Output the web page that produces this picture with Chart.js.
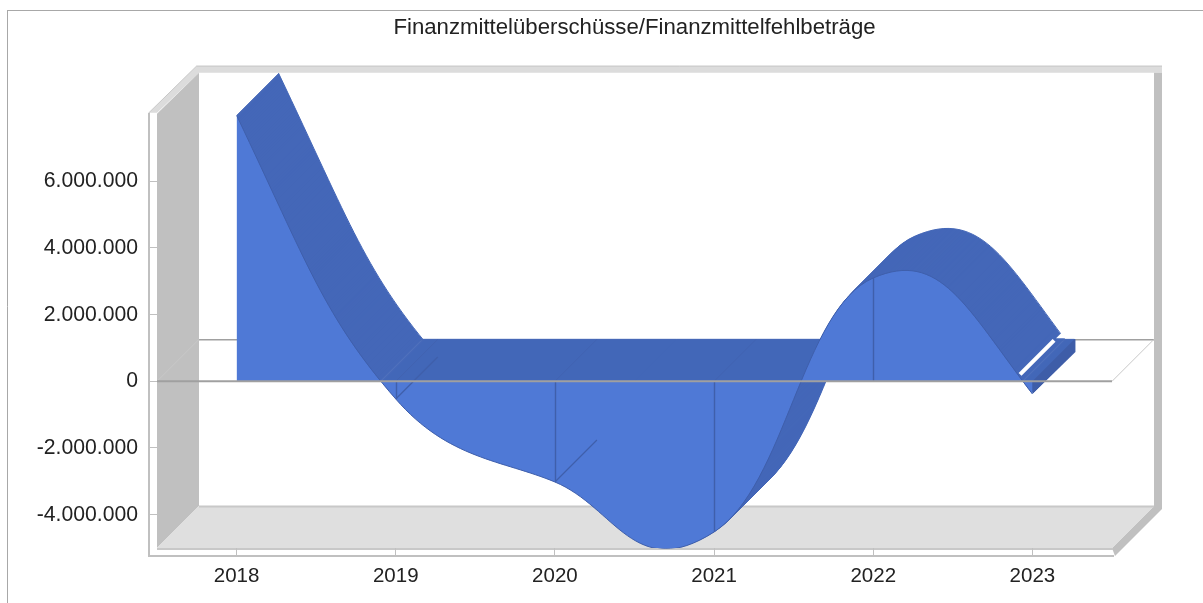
<!DOCTYPE html>
<html><head><meta charset="utf-8">
<style>html,body{margin:0;padding:0;background:#fff;overflow:hidden}canvas{display:block}</style>
<script src="https://cdn.jsdelivr.net/npm/chart.js@4"></script></head>
<body><canvas id="c" width="1203" height="603"></canvas>
<script>
const chartTitle = 'Finanzmittelüberschüsse/Finanzmittelfehlbeträge';
const years = ['2018','2019','2020','2021','2022','2023'];
const values = [7980000,-530000,-3020000,-4520000,3100000,-380000];
const yTickValues = [-4000000,-2000000,0,2000000,4000000,6000000];
const FONT = '"Liberation Sans", Arial, sans-serif';
const DEPTH = 42, STRIP = 8;
const CURVE = {left:[0,.45,.33,.5,.45,.42], right:[.45,.33,.38,.45,.42,0]};
const C = {front:'#4f79d6', side:'#4467b8', end:'#3e5da8', mark:'#3f5fab', wall:'#c0c0c0', band:'#dcdcdc', floor:'#dfdfdf', edge:'#c8c8c8', zero:'#a0a0a0', frame:'#a8a8a8'};

function poly(ctx, pts, fill){
  ctx.beginPath(); pts.forEach((p,i)=> i?ctx.lineTo(p[0],p[1]):ctx.moveTo(p[0],p[1])); ctx.closePath();
  ctx.fillStyle=fill;ctx.fill();
}
function seg(ctx,a,b,c,w,alpha){
  ctx.save();ctx.globalAlpha=alpha==null?1:alpha;ctx.strokeStyle=c;ctx.lineWidth=w||1;ctx.beginPath();ctx.moveTo(a[0],a[1]);ctx.lineTo(b[0],b[1]);ctx.stroke();ctx.restore();
}
function areaPath(ctx, pts, y0){
  ctx.beginPath(); ctx.moveTo(pts[0].x,y0); ctx.lineTo(pts[0].x,pts[0].y);
  for(let i=1;i<pts.length;i++){const a=pts[i-1],b=pts[i];ctx.bezierCurveTo(a.cp2x,a.cp2y,b.cp1x,b.cp1y,b.x,b.y);}
  ctx.lineTo(pts[pts.length-1].x,y0); ctx.closePath();
}
function lastCrossing(pts,y0){
  const a=pts[pts.length-2],b=pts[pts.length-1]; let res=b.x;
  for(let t=0;t<=1;t+=0.002){const u=1-t;
    const x=u*u*u*a.x+3*u*u*t*a.cp2x+3*u*t*t*b.cp1x+t*t*t*b.x;
    const y=u*u*u*a.y+3*u*u*t*a.cp2y+3*u*t*t*b.cp1y+t*t*t*b.y;
    if(y>=y0){res=x;break;}}
  return res;
}
const frame3d = {
  id:'frame3d',
  afterDatasetsUpdate(chart){
    const meta=chart.getDatasetMeta(0), pts=meta.data, n=pts.length;
    meta.dataset.updateControlPoints(chart.chartArea,'x');
    const sec=i=>(pts[i+1].y-pts[i].y)/(pts[i+1].x-pts[i].x);
    const m=pts.map((p,i)=> (i>0&&i<n-1)?(pts[i+1].y-pts[i-1].y)/(pts[i+1].x-pts[i-1].x):0);
    m[0]=1.5*sec(0)-0.5*m[1]; m[n-1]=1.5*sec(n-2)-0.5*m[n-2];
    pts.forEach((p,i)=>{
      const hl=i>0?(p.x-pts[i-1].x)*CURVE.left[i]:0, hr=i<n-1?(pts[i+1].x-p.x)*CURVE.right[i]:0;
      p.cp1x=p.x-hl;p.cp1y=p.y-m[i]*hl;p.cp2x=p.x+hr;p.cp2y=p.y+m[i]*hr;
    });
  },
  beforeDraw(chart){
    const {ctx,chartArea:a,scales:{y}}=chart; const D=DEPTH,S=STRIP;
    const L=a.left,R=a.right,T=a.top,B=a.bottom,y0=y.getPixelForValue(0);
    ctx.save();
    ctx.fillStyle='#fff';ctx.fillRect(0,0,chart.width,chart.height);
    seg(ctx,[7,10.5],[chart.width,10.5],C.frame,1);
    seg(ctx,[7.5,10],[7.5,chart.height],C.frame,1);
    // top border band of the box
    poly(ctx,[[L-S,T-2],[L+D-S+6,T-D-7],[R+D+8,T-D-7],[R+D+8,T-D],[L+D,T-D],[L,T-2]],C.band);
    seg(ctx,[L+D-2,T-D-6.5],[R+D+8,T-D-6.5],C.edge,1);
    seg(ctx,[L-S,T-2],[L+D-2,T-D-7],C.edge,1);
    // walls
    poly(ctx,[[L,T-1],[L+D,T-D],[L+D,B-D],[L,B]],C.wall);
    poly(ctx,[[R+D,T-D],[R+D+8,T-D],[R+D+8,B-D+3],[R+3,B+8],[R,B],[R+D,B-D]],C.wall);
    // floor
    poly(ctx,[[L,B],[L+D,B-D],[R+D,B-D],[R,B]],C.floor);
    seg(ctx,[L+D,B-D+0.5],[R+D,B-D+0.5],C.edge,2);
    // left and bottom strips
    ctx.strokeStyle=C.wall;ctx.lineWidth=2;
    ctx.beginPath();ctx.moveTo(L-S,T-2);ctx.lineTo(L-S,B+S);ctx.lineTo(R+2,B+S);ctx.stroke();
    seg(ctx,[L,B+1],[R+1,B+1],C.edge,2);
    // zero plane outline
    seg(ctx,[L+D,y0-D+0.5],[R+D,y0-D+0.5],C.zero,1.5);
    seg(ctx,[L,y0],[L+D,y0-D],C.edge,1);
    seg(ctx,[R,y0],[R+D,y0-D],C.edge,1);
    ctx.restore();
  },
  beforeDatasetsDraw(chart){
    const {ctx,scales:{y}}=chart; const pts=chart.getDatasetMeta(0).data; const y0=y.getPixelForValue(0),D=DEPTH;
    ctx.save();ctx.fillStyle=C.side;ctx.strokeStyle=C.side;ctx.lineWidth=1;
    for(let k=D;k>=1;k--){ctx.save();ctx.translate(k,-k);areaPath(ctx,pts,y0);ctx.fill();ctx.stroke();ctx.restore();}
    const last=pts[pts.length-1];
    poly(ctx,[[last.x,y0],[last.x+D,y0-D],[last.x+D+1,y0-D],[last.x+D+1,last.y-D],[last.x,last.y]],C.end);
    const sx=lastCrossing(pts,y0)-3;
    poly(ctx,[[sx+36,y0-43],[sx+70,y0-77],[sx+70,y0-43]],'#fff');
    seg(ctx,[sx,y0-7],[sx+34,y0-41],'#fff',4);
    ctx.restore();
  },
  afterDatasetsDraw(chart){
    const {ctx,chartArea:a,scales:{y}}=chart; const pts=chart.getDatasetMeta(0).data; const y0=y.getPixelForValue(0),D=DEPTH;
    ctx.save();
    pts.forEach((p,i)=>{
      if(i===0||i===pts.length-1) return;
      const xx=Math.round(p.x)+0.5;
      seg(ctx,[xx,y0],[xx,Math.min(p.y,a.bottom)],C.mark,1.4);
      seg(ctx,[p.x,y0],[p.x+D,y0-D],C.mark,1,p.y>y0?0.55:0);
      if(p.y>y0 && i<3) seg(ctx,[p.x,p.y],[p.x+D,p.y-D],C.mark,1.2);
    });
    seg(ctx,[a.left,y0],[a.right,y0],C.zero,2);
    ctx.restore();
  }
};
new Chart(document.getElementById('c'),{
  type:'line',
  data:{labels:years,datasets:[{data:values,fill:'origin',backgroundColor:C.front,borderColor:C.mark,borderWidth:1,pointRadius:0,tension:0.4}]},
  plugins:[frame3d],
  options:{
    responsive:false,animation:false,
    layout:{padding:{left:0,right:91,top:15,bottom:0}},
    plugins:{legend:{display:false},tooltip:{enabled:false},
      title:{display:true,text:chartTitle,fullSize:false,color:'#222',font:{family:FONT,size:22.2,weight:'normal'},padding:{top:0,bottom:73}}},
    scales:{
      x:{offset:true,grid:{drawOnChartArea:false,tickLength:8,color:C.wall,offset:false},border:{display:false},
        ticks:{color:'#222',font:{family:FONT,size:20.5},padding:8,maxRotation:0},
        afterFit(s){s.height=55;}},
      y:{min:-5000000,max:8000000,grid:{drawOnChartArea:false,tickLength:8,color:C.wall},border:{display:false},
        afterBuildTicks(s){s.ticks=yTickValues.map(v=>({value:v}));},
        ticks:{color:'#222',font:{family:FONT,size:21.2},padding:11,autoSkip:false,callback:v=>v.toLocaleString('de-DE')},
        afterFit(s){s.width=157;}}
    }
  }
});
</script></body></html>
